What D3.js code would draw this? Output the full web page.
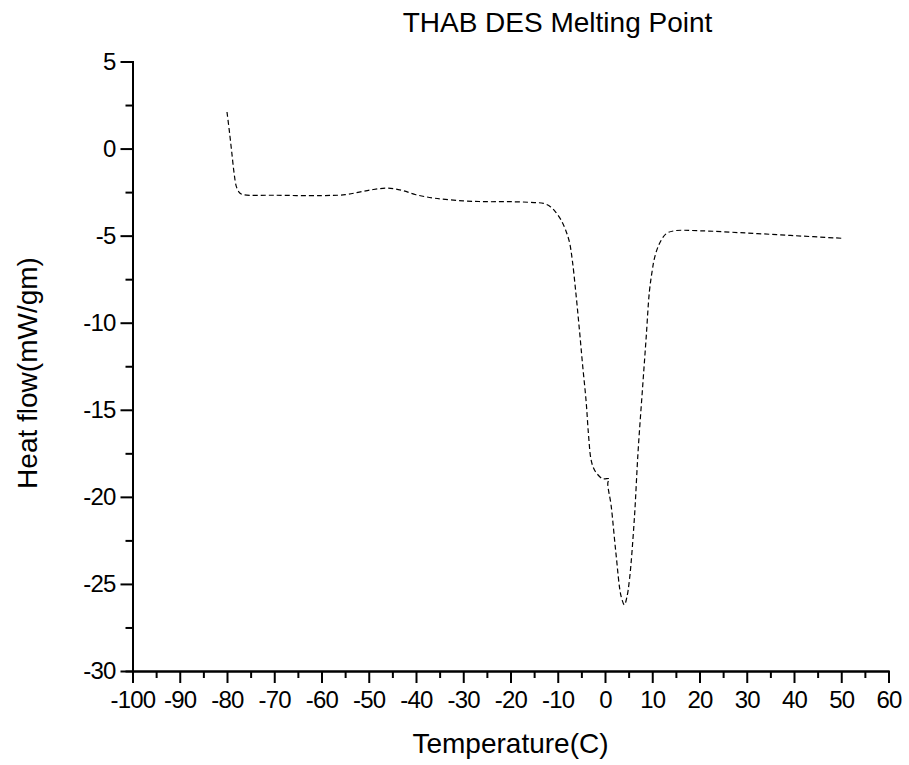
<!DOCTYPE html>
<html>
<head>
<meta charset="utf-8">
<script src="https://cdn.jsdelivr.net/npm/d3@7"></script>
<style>
  body { margin: 0; background: #fff; }
  svg { font-family: "Liberation Sans", Arial, sans-serif; }
</style>
</head>
<body>
<svg></svg>
<script>
// DSC trace
const temps = [-80, -79.5, -79, -78.5, -78, -77.3, -76.5, -70, -60, -55, -52, -49, -46, -43, -40, -36, -30, -25, -20, -15, -13, -11.5, -10.4, -9.3, -8.3, -7.5, -6.9, -6.2, -5.45, -4.75, -4.0, -3.5, -3.0, -2.5, -1.9, -0.5, 0.9, 0.6, 1.3, 2.3, 3.4, 4.1, 4.6, 5.2, 6.2, 7.0, 8.0, 8.7, 9.4, 10.0, 10.5, 11.5, 12.9, 14.7, 20, 30, 40, 50];
const heatFlow = [2.1, 1.0, -0.2, -1.4, -2.2, -2.55, -2.65, -2.68, -2.7, -2.65, -2.5, -2.35, -2.27, -2.4, -2.65, -2.85, -3.0, -3.05, -3.05, -3.1, -3.15, -3.35, -3.66, -4.1, -4.7, -5.4, -6.45, -8.2, -10.3, -12.4, -14.5, -16.4, -17.8, -18.3, -18.6, -18.96, -18.96, -19.2, -20.5, -23.2, -25.7, -26.2, -25.8, -24.7, -21.3, -17.4, -13.55, -10.9, -8.2, -7.0, -6.26, -5.47, -4.9, -4.72, -4.72, -4.85, -5.0, -5.15];

const xTicks = d3.range(-100, 61, 10);
const xMinor = d3.range(-95, 60, 10);
const yTicks = d3.range(-30, 6, 5);
const yMinor = d3.range(-27.5, 5, 5);

const svgWidth = 909;
const svgHeight = 765;
const margin = {top: 61.5, right: 20.5, bottom: 94, left: 132.5};
const width = svgWidth - margin.left - margin.right;
const height = svgHeight - margin.top - margin.bottom;

const svg = d3.select("svg")
    .attr("width", svgWidth)
    .attr("height", svgHeight);

const g = svg.append("g").attr("transform", "translate(" + margin.left + "," + margin.top + ")");

const x = d3.scaleLinear().domain([-100, 60]).range([0, width]);
const y = d3.scaleLinear().domain([-30, 5]).range([height, 0]);

// plain hyphen, like the original, not the unicode minus
const fmt = d => String(d);

// minor ticks first
g.append("g")
    .attr("transform", "translate(0," + height + ")")
    .call(d3.axisBottom(x).tickValues(xMinor).tickSize(7).tickFormat(""));
g.append("g")
    .call(d3.axisLeft(y).tickValues(yMinor).tickSize(7).tickFormat(""));

g.append("g")
    .attr("transform", "translate(0," + height + ")")
    .call(d3.axisBottom(x).tickValues(xTicks).tickSize(12).tickSizeOuter(0).tickPadding(8).tickFormat(fmt));

g.append("g")
    .call(d3.axisLeft(y).tickValues(yTicks).tickSize(12).tickSizeOuter(0).tickPadding(5).tickFormat(fmt));

svg.selectAll(".domain").attr("stroke", "#000").attr("stroke-width", 2);
svg.selectAll(".tick line").attr("stroke", "#000").attr("stroke-width", 2);
svg.selectAll(".tick text")
    .attr("fill", "#000")
    .style("font-size", "24px")
    .style("letter-spacing", "-0.8px")
    .style("font-family", "'Liberation Sans', Arial, sans-serif");

const line = d3.line()
    .x((d, i) => x(temps[i]))
    .y(d => y(d))
    .curve(d3.curveCatmullRom.alpha(0.5));

g.append("path")
    .datum(heatFlow)
    .attr("fill", "none")
    .attr("stroke", "#000")
    .attr("stroke-width", 1.2)
    .attr("stroke-dasharray", "5,3")
    .attr("d", line);

svg.append("text")
    .attr("x", 557.5)
    .attr("y", 32)
    .attr("text-anchor", "middle")
    .style("font-size", "28px")
    .text("THAB DES Melting Point");

svg.append("text")
    .attr("x", margin.left + width / 2)
    .attr("y", 753)
    .attr("text-anchor", "middle")
    .style("font-size", "28px")
    .text("Temperature(C)");

svg.append("text")
    .attr("transform", "translate(37,373) rotate(-90)")
    .attr("text-anchor", "middle")
    .style("font-size", "28px")
    .text("Heat flow(mW/gm)");
</script>
</body>
</html>
